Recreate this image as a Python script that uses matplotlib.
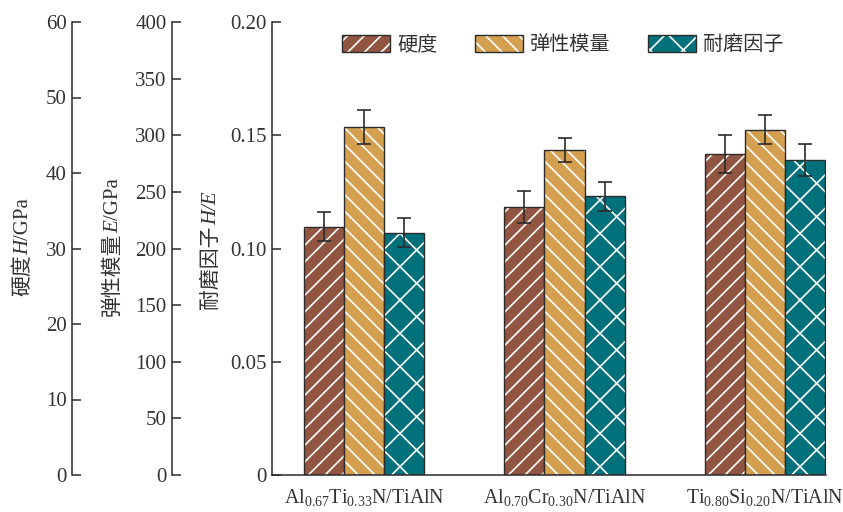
import numpy as np
import matplotlib
matplotlib.use('Agg')
import matplotlib.pyplot as plt
from matplotlib.patches import Patch
from matplotlib.transforms import IdentityTransform

plt.rcParams['font.family'] = ['Liberation Serif', 'Noto Sans CJK SC']
plt.rcParams['mathtext.fontset'] = 'custom'
plt.rcParams['mathtext.rm'] = 'Liberation Serif'
plt.rcParams['mathtext.it'] = 'Liberation Serif:italic'
plt.rcParams['hatch.linewidth'] = 1.2

# data
groups = [r'$\mathrm{Al_{0.67}Ti_{0.33}N/TiAlN}$',
          r'$\mathrm{Al_{0.70}Cr_{0.30}N/TiAlN}$',
          r'$\mathrm{Ti_{0.80}Si_{0.20}N/TiAlN}$']
hardness = [32.9, 35.5, 42.5]          # GPa
hardness_err = [1.9, 2.1, 2.5]
modulus = [307, 287, 305]              # GPa
modulus_err = [15, 11, 13]
wear = [0.107, 0.123, 0.139]           # H/E
wear_err = [0.0064, 0.0065, 0.0072]

names = ['硬度', '弹性模量', '耐磨因子']
colors = ['#915541', '#D4A050', '#00707A']
hatches = ['//', '\\\\', 'x']
dark = '#2b2b2b'

W, H = 843, 512
fig = plt.figure(figsize=(W / 100, H / 100), dpi=100)
rect = [272 / W, 37 / H, 554 / W, 453 / H]

ax_h = fig.add_axes(rect, facecolor='none')
ax_m = fig.add_axes(rect, facecolor='none', sharex=ax_h)
ax = fig.add_axes(rect, facecolor='none', sharex=ax_h)

x = np.arange(len(groups))
w = 0.2
sets = [(ax_h, hardness, hardness_err), (ax_m, modulus, modulus_err), (ax, wear, wear_err)]
for k, (a, vals, errs) in enumerate(sets):
    pos = x + (k - 1) * w
    a.bar(pos, vals, w, color=colors[k], edgecolor='white', hatch=hatches[k], linewidth=0, zorder=2)
    a.bar(pos, vals, w, fill=False, edgecolor=dark, linewidth=1.0, zorder=3)
    a.errorbar(pos, vals, yerr=errs, fmt='none', ecolor=dark, elinewidth=1.2,
               capsize=5, capthick=1.2, zorder=4)

ax.set_xlim(-0.46, 2.305)
ax_h.set_ylim(0, 60)
ax_m.set_ylim(0, 400)
ax.set_ylim(0, 0.20)
ax_h.set_yticks(np.arange(0, 61, 10))
ax_m.set_yticks(np.arange(0, 401, 50))
ax.set_yticks([0, 0.05, 0.10, 0.15, 0.20])
ax.set_yticklabels(['0', '0.05', '0.10', '0.15', '0.20'])
ax.set_xticks(x)
ax.set_xticklabels(groups)

for a, off in [(ax_h, -200 / 554), (ax_m, -100 / 554), (ax, 0)]:
    for s in ['top', 'right']:
        a.spines[s].set_visible(False)
    a.spines['left'].set_position(('axes', off))
    a.spines['left'].set_linewidth(1.1)
    a.spines['left'].set_color(dark)
    a.tick_params(axis='y', direction='in', length=6.5, width=1.1, color=dark,
                  labelsize=15, pad=4, labelcolor='#333333')
    if a is not ax:
        a.spines['bottom'].set_visible(False)
        a.tick_params(axis='x', bottom=False, labelbottom=False)
ax.spines['bottom'].set_linewidth(1.1)
ax.spines['bottom'].set_color(dark)
ax.tick_params(axis='x', length=0, labelsize=14.3, pad=9, labelcolor='#333333')

handles = [(Patch(facecolor=c, edgecolor='white', hatch=h, linewidth=0),
            Patch(fill=False, edgecolor=dark, linewidth=1.0)) for c, h in zip(colors, hatches)]
ax.legend(handles, names, loc='center', bbox_to_anchor=(0.525, 0.949), ncol=3,
          frameon=False, fontsize=14.5, handlelength=2.4, handleheight=0.95,
          handletextpad=0.35, columnspacing=1.85, borderaxespad=0, labelcolor='#333333')


def vlabel(x_px, yc_px, parts, size=15):
    # vertical label built from pieces so the symbol can be italic
    r = fig.canvas.get_renderer()
    texts = [fig.text(0, 0, s, rotation=90, rotation_mode='anchor', ha='left', va='baseline',
                      fontsize=size, style=st, color='#333333', transform=IdentityTransform())
             for s, st in parts]
    lens = [t.get_window_extent(r).height for t in texts]
    y = (H - yc_px) - sum(lens) / 2
    for t, l in zip(texts, lens):
        t.set_position((x_px, y))
        y += l


vlabel(28, 247, [('硬度', 'normal'), ('H', 'italic'), ('/GPa', 'normal')])
vlabel(118, 247, [('弹性模量', 'normal'), ('E', 'italic'), ('/GPa', 'normal')])
vlabel(216, 250, [('耐磨因子', 'normal'), ('H/E', 'italic')])

fig.savefig('out.png', dpi=100)
